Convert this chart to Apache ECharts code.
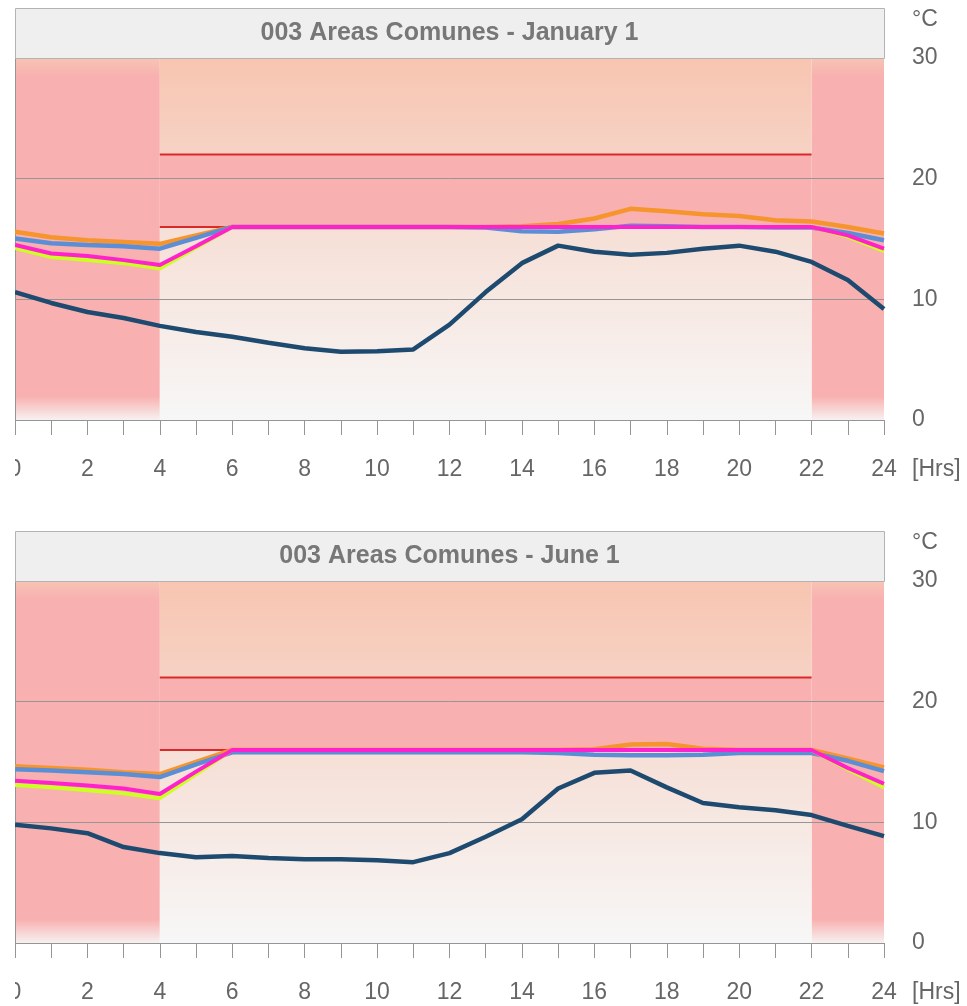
<!DOCTYPE html>
<html>
<head>
<meta charset="utf-8">
<script src="https://cdn.jsdelivr.net/npm/echarts@6/dist/echarts.min.js"></script>
<style>
  html, body { margin: 0; padding: 0; background: #ffffff; }
  #chart { position: absolute; left: 15px; top: 0; width: 952px; height: 1006px; }
</style>
</head>
<body>
<div id="chart"></div>
<script>
// ---- data ----
const hours = [0, 1, 2, 3, 4, 5, 6, 7, 8, 9, 10, 11, 12, 13, 14, 15, 16, 17, 18, 19, 20, 21, 22, 23, 24];
const hourLabels = [0, 2, 4, 6, 8, 10, 12, 14, 16, 18, 20, 22, 24];
const tempTicks = [0, 10, 20, 30];
const panelTitles = ['003 Areas Comunes - January 1', '003 Areas Comunes - June 1'];
const tempUnit = '°C';
const hourUnit = '[Hrs]';

// occupied period (hours) and heating / cooling setpoints (°C)
const occupiedHours = [4, 22];
const setpoints = [16, 22];

// January 1
const janRadiant   = [15.6, 15.15, 14.9, 14.75, 14.6, 15.3, 16, 16, 16, 16, 16, 16, 16, 16, 16.05, 16.25, 16.7, 17.5, 17.3, 17.05, 16.9, 16.55, 16.45, 16.0, 15.45];
const janOperative = [15.05, 14.65, 14.5, 14.4, 14.2, 15.1, 16, 16, 16, 16, 16, 16, 16, 15.95, 15.65, 15.6, 15.8, 16.1, 16.05, 16.0, 16.0, 15.95, 15.95, 15.5, 14.9];
const janSetback   = [14.25, 13.5, 13.25, 13.0, 12.55, 14.3, 16, 16, 16, 16, 16, 16, 16, 16, 16, 16, 16, 16, 16, 16, 16, 16, 16, 15.2, 14.0];
const janAir       = [14.5, 13.8, 13.6, 13.25, 12.85, 14.4, 16, 16, 16, 16, 16, 16, 16, 16, 16, 16, 16, 16, 16, 16, 16, 16, 16, 15.3, 14.2];
const janOutdoor   = [10.6, 9.7, 8.95, 8.45, 7.8, 7.3, 6.9, 6.4, 5.95, 5.65, 5.7, 5.85, 7.9, 10.6, 13.0, 14.45, 13.95, 13.7, 13.85, 14.2, 14.45, 13.95, 13.1, 11.6, 9.2];

// June 1
const junRadiant   = [14.65, 14.5, 14.35, 14.15, 14.0, 15.0, 16, 16, 16, 16, 16, 16, 16, 16, 16, 16, 16.05, 16.45, 16.5, 16.1, 16.0, 16.0, 16.0, 15.3, 14.55];
const junOperative = [14.4, 14.3, 14.15, 14.0, 13.75, 14.8, 15.8, 15.8, 15.8, 15.8, 15.8, 15.8, 15.8, 15.8, 15.8, 15.75, 15.6, 15.55, 15.55, 15.6, 15.75, 15.75, 15.75, 15.1, 14.25];
const junSetback   = [13.1, 12.9, 12.65, 12.4, 12.0, 14.0, 16, 16, 16, 16, 16, 16, 16, 16, 16, 16, 16, 16, 16, 16, 16, 16, 16, 14.4, 12.9];
const junAir       = [13.45, 13.25, 13.05, 12.8, 12.35, 14.2, 16, 16, 16, 16, 16, 16, 16, 16, 16, 16, 16, 16, 16, 16, 16, 16, 16, 14.5, 13.2];
const junOutdoor   = [9.8, 9.5, 9.1, 7.95, 7.45, 7.1, 7.2, 7.05, 6.95, 6.95, 6.85, 6.7, 7.45, 8.8, 10.25, 12.8, 14.1, 14.3, 12.9, 11.6, 11.25, 11.0, 10.6, 9.7, 8.85];

const panelData = [
  { radiant: janRadiant, operative: janOperative, setback: janSetback, air: janAir, outdoor: janOutdoor },
  { radiant: junRadiant, operative: junOperative, setback: junSetback, air: junAir, outdoor: junOutdoor }
];

// ---- layout & style ----
const FONT = 'Liberation Sans, Arial, Helvetica, sans-serif';
const PLOT_W = 869;
const PLOT_H = 362;
const panelTops = [58, 581];
const HEADER_H = 50;
const LABEL_COLOR = '#666666';
const AXIS_COLOR = '#959595';

const tMin = tempTicks[0];
const tMax = tempTicks[tempTicks.length - 1];
const hMin = hours[0];
const hMax = hours[hours.length - 1];

const grad = (stops) => new echarts.graphic.LinearGradient(0, 0, 0, 1,
  stops.map(([offset, color]) => ({ offset, color })));

const PINK = '#f8b1b0';
const sideFill  = () => grad([[0, '#f7c4b4'], [0.05, PINK], [0.935, PINK], [1, '#f7f1f1']]);
const upperFill = () => grad([[0, '#f8c5b1'], [1, '#f6d2c4']]);
const lowerFill = () => grad([[0, '#f6dfd6'], [1, '#f7f7f7']]);

const pairs = (vals) => hours.map((h, i) => [h, vals[i]]);

function bands() {
  const [on, off] = occupiedHours;
  const [heat, cool] = setpoints;
  return [
    [{ coord: [hMin, tMin], itemStyle: { color: sideFill() } }, { coord: [on, tMax] }],
    [{ coord: [off, tMin], itemStyle: { color: sideFill() } }, { coord: [hMax, tMax] }],
    [{ coord: [on, cool], itemStyle: { color: upperFill() } }, { coord: [off, tMax] }],
    [{ coord: [on, heat], itemStyle: { color: PINK } }, { coord: [off, cool] }],
    [{ coord: [on, tMin], itemStyle: { color: lowerFill() } }, { coord: [off, heat] }]
  ];
}

const grids = [], xAxes = [], yAxes = [], series = [], graphics = [];

panelData.forEach((d, i) => {
  const top = panelTops[i];
  grids.push({ left: 0, top: top, width: PLOT_W, height: PLOT_H, outerBoundsMode: 'none', containLabel: false });

  xAxes.push({
    gridIndex: i, type: 'value', min: hMin, max: hMax, interval: 1, z: 2,
    name: hourUnit, nameLocation: 'end', nameGap: 28,
    nameTextStyle: { color: LABEL_COLOR, fontFamily: FONT, fontSize: 23, verticalAlign: 'top', padding: [38, 0, 0, 0] },
    axisLine: { show: true, lineStyle: { color: AXIS_COLOR, width: 1 } },
    axisTick: { show: true, inside: false, length: 15, lineStyle: { color: AXIS_COLOR, width: 1 } },
    axisLabel: {
      margin: 38, color: LABEL_COLOR, fontFamily: FONT, fontSize: 23,
      formatter: (v) => hourLabels.includes(v) ? String(v) : ''
    },
    splitLine: { show: false }
  });

  yAxes.push({
    gridIndex: i, type: 'value', position: 'right', min: tMin, max: tMax, interval: 10, z: 2,
    axisLine: { show: true, lineStyle: { color: AXIS_COLOR, width: 1 } },
    axisTick: { show: true, inside: false, length: 14, lineStyle: { color: AXIS_COLOR, width: 1 } },
    axisLabel: { margin: 28, color: LABEL_COLOR, fontFamily: FONT, fontSize: 23 },
    splitLine: { show: true, lineStyle: { color: AXIS_COLOR, width: 1 } }
  });

  // comfort bands behind everything
  series.push({
    type: 'line', xAxisIndex: i, yAxisIndex: i, data: [], z: 0, silent: true,
    markArea: { z: 0, silent: true, label: { show: false }, itemStyle: { borderWidth: 0, opacity: 1 }, data: bands() }
  });

  // setpoint lines over the occupied period
  setpoints.forEach((sp) => {
    series.push({
      type: 'line', xAxisIndex: i, yAxisIndex: i, z: 3, silent: true,
      data: [[occupiedHours[0], sp], [occupiedHours[1], sp]],
      showSymbol: false, symbol: 'none',
      lineStyle: { color: '#d92a2a', width: 2 }
    });
  });

  const lines = [
    { name: 'Radiant', vals: d.radiant, color: '#f6952e', width: 4.5, z: 4 },
    { name: 'Operative', vals: d.operative, color: '#5b8ed5', width: 4.5, z: 5 },
    { name: 'Setback', vals: d.setback, color: '#ccff22', width: 4, z: 6 },
    { name: 'Air', vals: d.air, color: '#ff22cc', width: 4, z: 7 },
    { name: 'Outdoor', vals: d.outdoor, color: '#1e4a70', width: 4.5, z: 8 }
  ];
  lines.forEach((l) => {
    series.push({
      name: l.name, type: 'line', xAxisIndex: i, yAxisIndex: i, z: l.z,
      data: pairs(l.vals), symbol: 'none', showSymbol: false, smooth: false,
      lineStyle: { color: l.color, width: l.width }, itemStyle: { color: l.color }
    });
  });

  // header strip with the panel title
  graphics.push({
    type: 'rect', z: 10,
    shape: { x: 0.5, y: top - HEADER_H + 0.5, width: PLOT_W, height: HEADER_H },
    style: { fill: '#efefef', stroke: '#b3b3b3', lineWidth: 1 }
  });
  graphics.push({
    type: 'text', z: 11,
    x: PLOT_W / 2, y: top - HEADER_H / 2,
    style: {
      text: panelTitles[i], fill: '#777777', font: 'bold 25px ' + FONT,
      textAlign: 'center', textVerticalAlign: 'middle'
    }
  });
  // unit label above the temperature axis
  graphics.push({
    type: 'text', z: 11,
    x: PLOT_W + 28, y: top - 38,
    style: {
      text: tempUnit, fill: LABEL_COLOR, font: '23px ' + FONT,
      textAlign: 'left', textVerticalAlign: 'middle'
    }
  });
});

const chart = echarts.init(document.getElementById('chart'), null, { renderer: 'canvas' });
chart.setOption({
  animation: false,
  backgroundColor: '#ffffff',
  grid: grids,
  xAxis: xAxes,
  yAxis: yAxes,
  series: series,
  graphic: graphics
});
</script>
</body>
</html>
